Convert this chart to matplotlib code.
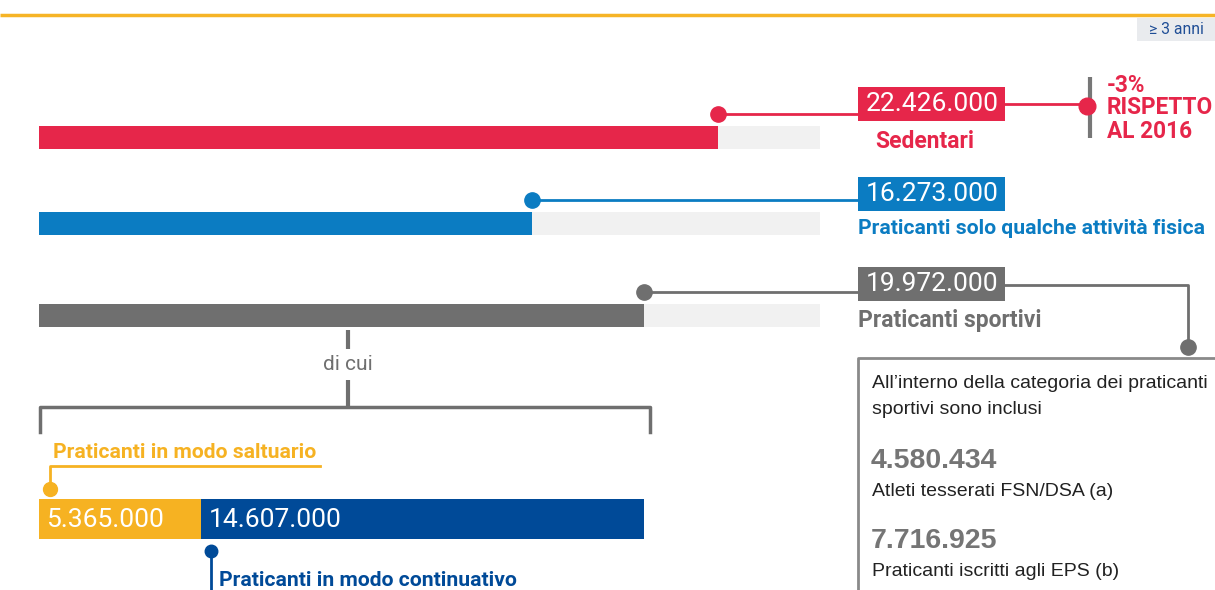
import matplotlib
matplotlib.use("Agg")
import matplotlib.pyplot as plt

plt.rcParams['font.family'] = ['Roboto', 'DejaVu Sans']

# main categories (persone >= 3 anni)
categories = ["Sedentari", "Praticanti solo qualche attività fisica", "Praticanti sportivi"]
values = [22.426, 16.273, 19.972]          # milioni
value_labels = ["22.426.000", "16.273.000", "19.972.000"]
colors = ["#E6264A", "#0B7CC2", "#6F6F6F"]

# breakdown of "Praticanti sportivi"
sub_labels = ["Praticanti in modo saltuario", "Praticanti in modo continuativo"]
sub_values = [5.365, 14.607]
sub_value_labels = ["5.365.000", "14.607.000"]
sub_colors = ["#F6B222", "#004A98"]

# box on the right
box_numbers = ["4.580.434", "7.716.925"]
box_captions = ["Atleti tesserati FSN/DSA (a)", "Praticanti iscritti agli EPS (b)"]

XMAX = 25.8
W, H = 1215, 590
HELV = ["Liberation Sans", "DejaVu Sans"]

fig = plt.figure(figsize=(W / 100, H / 100), dpi=100)
bx = fig.add_axes([39 / W, 0, 781 / W, 1])
bx.set_xlim(0, XMAX)
bx.set_ylim(H, 0)
bx.axis("off")
bx.set_zorder(1)

ov = fig.add_axes([0, 0, 1, 1])
ov.set_xlim(0, W)
ov.set_ylim(H, 0)
ov.axis("off")
ov.set_zorder(2)


def px(v):
    # x position (pixels) of value v on the bar axis
    return ov.transData.inverted().transform(bx.transData.transform((v, 0)))[0]


# top rule and tag
ov.plot([0, W], [15, 15], color="#F6B426", lw=2.5, solid_capstyle="butt")
ov.add_patch(plt.Rectangle((1137, 18), 80, 23, color="#E9EBEE", lw=0))
ov.text(1176, 30, "≥ 3 anni", color="#1F4E96", fontsize=11.3, ha="center", va="center")

bar_y = [137.5, 223.5, 315.5]
bar_h = 23
dot_y = [114, 200, 292]
box_y = [87, 177, 267]

for i in range(3):
    bx.barh(bar_y[i], XMAX, height=bar_h, color="#F1F1F1", lw=0)
    bx.barh(bar_y[i], values[i], height=bar_h, color=colors[i], lw=0)
    xe = px(values[i])
    ov.plot([xe, 858], [dot_y[i], dot_y[i]], color=colors[i], lw=2, zorder=2)
    ov.plot(xe, dot_y[i], "o", color=colors[i], ms=11, zorder=3)
    ov.add_patch(plt.Rectangle((858, box_y[i]), 147, 34, color=colors[i], lw=0, zorder=4))
    ov.text(866, box_y[i] + 17, value_labels[i], color="white", fontsize=19,
            va="center", ha="left", zorder=5)

ov.text(875, 141, categories[0], color=colors[0], fontsize=16.5, fontweight="bold", va="center")
ov.text(858, 229, categories[1], color=colors[1], fontsize=15.2, fontweight="bold", va="center")
ov.text(858, 320, categories[2], color=colors[2], fontsize=16.5, fontweight="bold", va="center")

# variation vs 2016
ov.plot([1005, 1088], [104, 104], color=colors[0], lw=2)
ov.plot([1090, 1090], [77, 138], color="#777777", lw=3, solid_capstyle="butt")
ov.plot(1087, 106, "o", color=colors[0], ms=12, zorder=3)
for txt, yy in zip(["-3%", "RISPETTO", "AL 2016"], [85, 108, 132]):
    ov.text(1107, yy, txt, color=colors[0], fontsize=16.3, fontweight="bold", va="center")

# link from sportivi to info box
ov.plot([1005, 1188, 1188], [285, 285, 347], color="#6F6F6F", lw=2)
ov.plot(1188, 347, "o", color="#6F6F6F", ms=11, zorder=3)

# info box
ov.plot([1216, 858, 858], [358, 358, 592], color="#8A8A8A", lw=2)
ov.text(872, 383, "All’interno della categoria dei praticanti", color="#222222",
        fontsize=14, va="center", family=HELV)
ov.text(872, 410, "sportivi sono inclusi", color="#222222", fontsize=14, va="center",
        family=HELV)
for num, cap, yy in zip(box_numbers, box_captions, [461, 541]):
    ov.text(871, yy, num, color="#757575", fontsize=20.5, fontweight="bold", va="center",
            family=HELV)
    ov.text(872, yy + 30, cap, color="#222222", fontsize=14, va="center", family=HELV)

# "di cui" bracket
gx = 348
ov.plot([gx, gx], [330, 349], color="#6F6F6F", lw=3, solid_capstyle="butt")
ov.text(gx, 365, "di cui", color="#6F6F6F", fontsize=15, ha="center", va="center")
ov.plot([gx, gx], [380, 407], color="#6F6F6F", lw=3, solid_capstyle="butt")
ov.plot([40, 40, 650, 650], [432, 407, 407, 432], color="#6F6F6F", lw=2.5)

# breakdown bar
sub_y = 519
left = 0
for v, c, lab in zip(sub_values, sub_colors, sub_value_labels):
    bx.barh(sub_y, v, left=left, height=40, color=c, lw=0)
    ov.text(px(left) + 7, sub_y + 1, lab, color="white", fontsize=19, va="center")
    left += v

# saltuario label
xo = px(0) + 11
ov.text(53, 453, sub_labels[0], color=sub_colors[0], fontsize=15.2, fontweight="bold", va="center")
ov.plot([xo, xo, 320], [489, 466, 466], color=sub_colors[0], lw=2)
ov.plot(xo, 489, "o", color=sub_colors[0], ms=10, zorder=3)

# continuativo label
xb = px(sub_values[0]) + 10
ov.plot([xb, xb], [551, 592], color=sub_colors[1], lw=2)
ov.plot(xb, 551, "o", color=sub_colors[1], ms=9, zorder=3)
ov.text(xb + 8, 580, sub_labels[1], color=sub_colors[1], fontsize=15.2, fontweight="bold", va="center")

fig.savefig("out.png", dpi=100)
